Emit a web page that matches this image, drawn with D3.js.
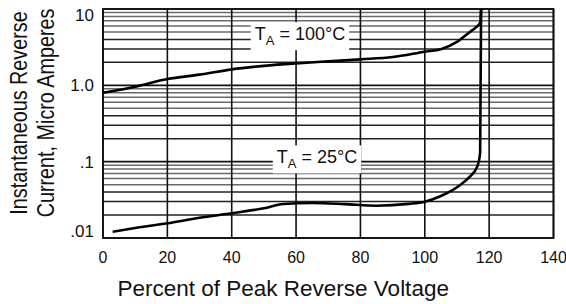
<!DOCTYPE html>
<html>
<head>
<meta charset="utf-8">
<script src="https://cdn.jsdelivr.net/npm/d3@7"></script>
<style>
  body { margin: 0; background: #fff; }
  text { font-family: "Liberation Sans", Arial, sans-serif; fill: #111; }
</style>
</head>
<body>
<div id="chart"></div>
<script>
// percent of peak reverse voltage vs reverse current (uA)
var pctHot = [0, 10, 20, 30, 40, 50, 60, 70, 80, 90, 100, 105, 110, 114, 116, 117.2, 117.5];
var curHot = [0.80, 0.96, 1.21, 1.38, 1.62, 1.80, 1.94, 2.06, 2.19, 2.35, 2.76, 2.98, 3.7, 5.0, 5.8, 6.6, 10];

var pctCold = [3, 10, 20, 30, 40, 50, 56, 65, 75, 85, 95, 100, 105, 111, 114, 116.3, 117.2, 117.5];
var curCold = [0.0121, 0.0135, 0.0156, 0.0184, 0.0211, 0.0245, 0.0279, 0.0287, 0.0278, 0.0265, 0.028, 0.0299, 0.0355, 0.0496, 0.0636, 0.086, 0.13, 10];

var xTicks = [0, 20, 40, 60, 80, 100, 120, 140];
var yTicks = [0.01, 0.1, 1, 10];
var yTickLabels = [".01", ".1", "1.0", "10"];

var W = 566, H = 304;
var margin = {top: 9, left: 103, bottom: 66, right: 12.5};

var svg = d3.select("#chart").append("svg")
  .attr("width", W)
  .attr("height", H);

var x = d3.scaleLinear().domain([0, 140]).range([margin.left, W - margin.right]);
var y = d3.scaleLog().domain([0.01, 10]).range([H - margin.bottom, margin.top]);

var g = svg.append("g");

// minor log grid
var minor = [];
[0.01, 0.1, 1].forEach(function(d) {
  for (var k = 2; k <= 9; k++) minor.push(d * k);
});

g.selectAll("line.minor").data(minor)
  .enter().append("line")
  .attr("class", "minor")
  .attr("x1", x(0)).attr("x2", x(140))
  .attr("y1", function(d) { return y(d); })
  .attr("y2", function(d) { return y(d); })
  .attr("stroke", function(d) {
    var k = Math.round(d / Math.pow(10, Math.floor(Math.log10(d) + 1e-9)));
    return k <= 4 ? "#222" : "#6a6a6a";
  })
  .attr("stroke-width", 1.5);

g.selectAll("line.major").data(yTicks)
  .enter().append("line")
  .attr("x1", x(0)).attr("x2", x(140))
  .attr("y1", function(d) { return y(d); })
  .attr("y2", function(d) { return y(d); })
  .attr("stroke", "#111")
  .attr("stroke-width", 1.6);

g.selectAll("line.vgrid").data(xTicks)
  .enter().append("line")
  .attr("x1", function(d) { return x(d); })
  .attr("x2", function(d) { return x(d); })
  .attr("y1", y(10)).attr("y2", y(0.01))
  .attr("stroke", "#111")
  .attr("stroke-width", 1.6);

g.append("rect")
  .attr("x", x(0)).attr("y", y(10))
  .attr("width", x(140) - x(0))
  .attr("height", y(0.01) - y(10))
  .attr("fill", "none")
  .attr("stroke", "#111")
  .attr("stroke-width", 1.8);

// curves
var line = d3.line()
  .x(function(d) { return x(d[0]); })
  .y(function(d) { return y(d[1]); })
  .curve(d3.curveMonotoneX);

[[pctHot, curHot], [pctCold, curCold]].forEach(function(s) {
  var pts = s[0].map(function(p, i) { return [p, s[1][i]]; });
  g.append("path")
    .datum(pts)
    .attr("d", line)
    .attr("fill", "none")
    .attr("stroke", "#000")
    .attr("stroke-width", 2.6);
});

// temperature labels
function tempLabel(px, cur, temp) {
  var lg = g.append("g");
  var t = lg.append("text")
    .attr("x", x(px)).attr("y", y(cur))
    .attr("text-anchor", "middle")
    .style("font-size", "18px");
  t.append("tspan").text("T");
  t.append("tspan").attr("dy", 5).style("font-size", "13px").text("A");
  t.append("tspan").attr("dy", -5).text(" = " + temp + "\u00b0C");
  var b = t.node().getBBox();
  lg.insert("rect", "text")
    .attr("x", b.x - 4).attr("y", b.y - 2)
    .attr("width", b.width + 8).attr("height", b.height + 4)
    .attr("fill", "#fff");
}
tempLabel(61.2, 3.9, 100);
tempLabel(66.5, 0.095, 25);

// tick labels
svg.selectAll("text.xt").data(xTicks)
  .enter().append("text")
  .attr("x", function(d) { return x(d); })
  .attr("y", 263)
  .attr("text-anchor", "middle")
  .style("font-size", "16px")
  .text(function(d) { return d; });

svg.selectAll("text.yt").data(yTicks)
  .enter().append("text")
  .attr("x", 94)
  .attr("y", function(d) {
    return Math.min(Math.max(y(d), margin.top + 6), H - margin.bottom - 7);
  })
  .attr("dy", "0.35em")
  .attr("text-anchor", "end")
  .style("font-size", "17px")
  .text(function(d, i) { return yTickLabels[i]; });

// axis titles
svg.append("text")
  .attr("x", x(56))
  .attr("y", 296)
  .attr("text-anchor", "middle")
  .style("font-size", "22.5px")
  .text("Percent of Peak Reverse Voltage");

var yt = svg.append("g")
  .attr("transform", "translate(0,113) rotate(-90) scale(0.86,1)");
yt.append("text")
  .attr("x", 0).attr("y", 27)
  .attr("text-anchor", "middle")
  .style("font-size", "23px")
  .text("Instantaneous Reverse");
yt.append("text")
  .attr("x", 0).attr("y", 54)
  .attr("text-anchor", "middle")
  .style("font-size", "23px")
  .text("Current, Micro Amperes");
</script>
</body>
</html>
